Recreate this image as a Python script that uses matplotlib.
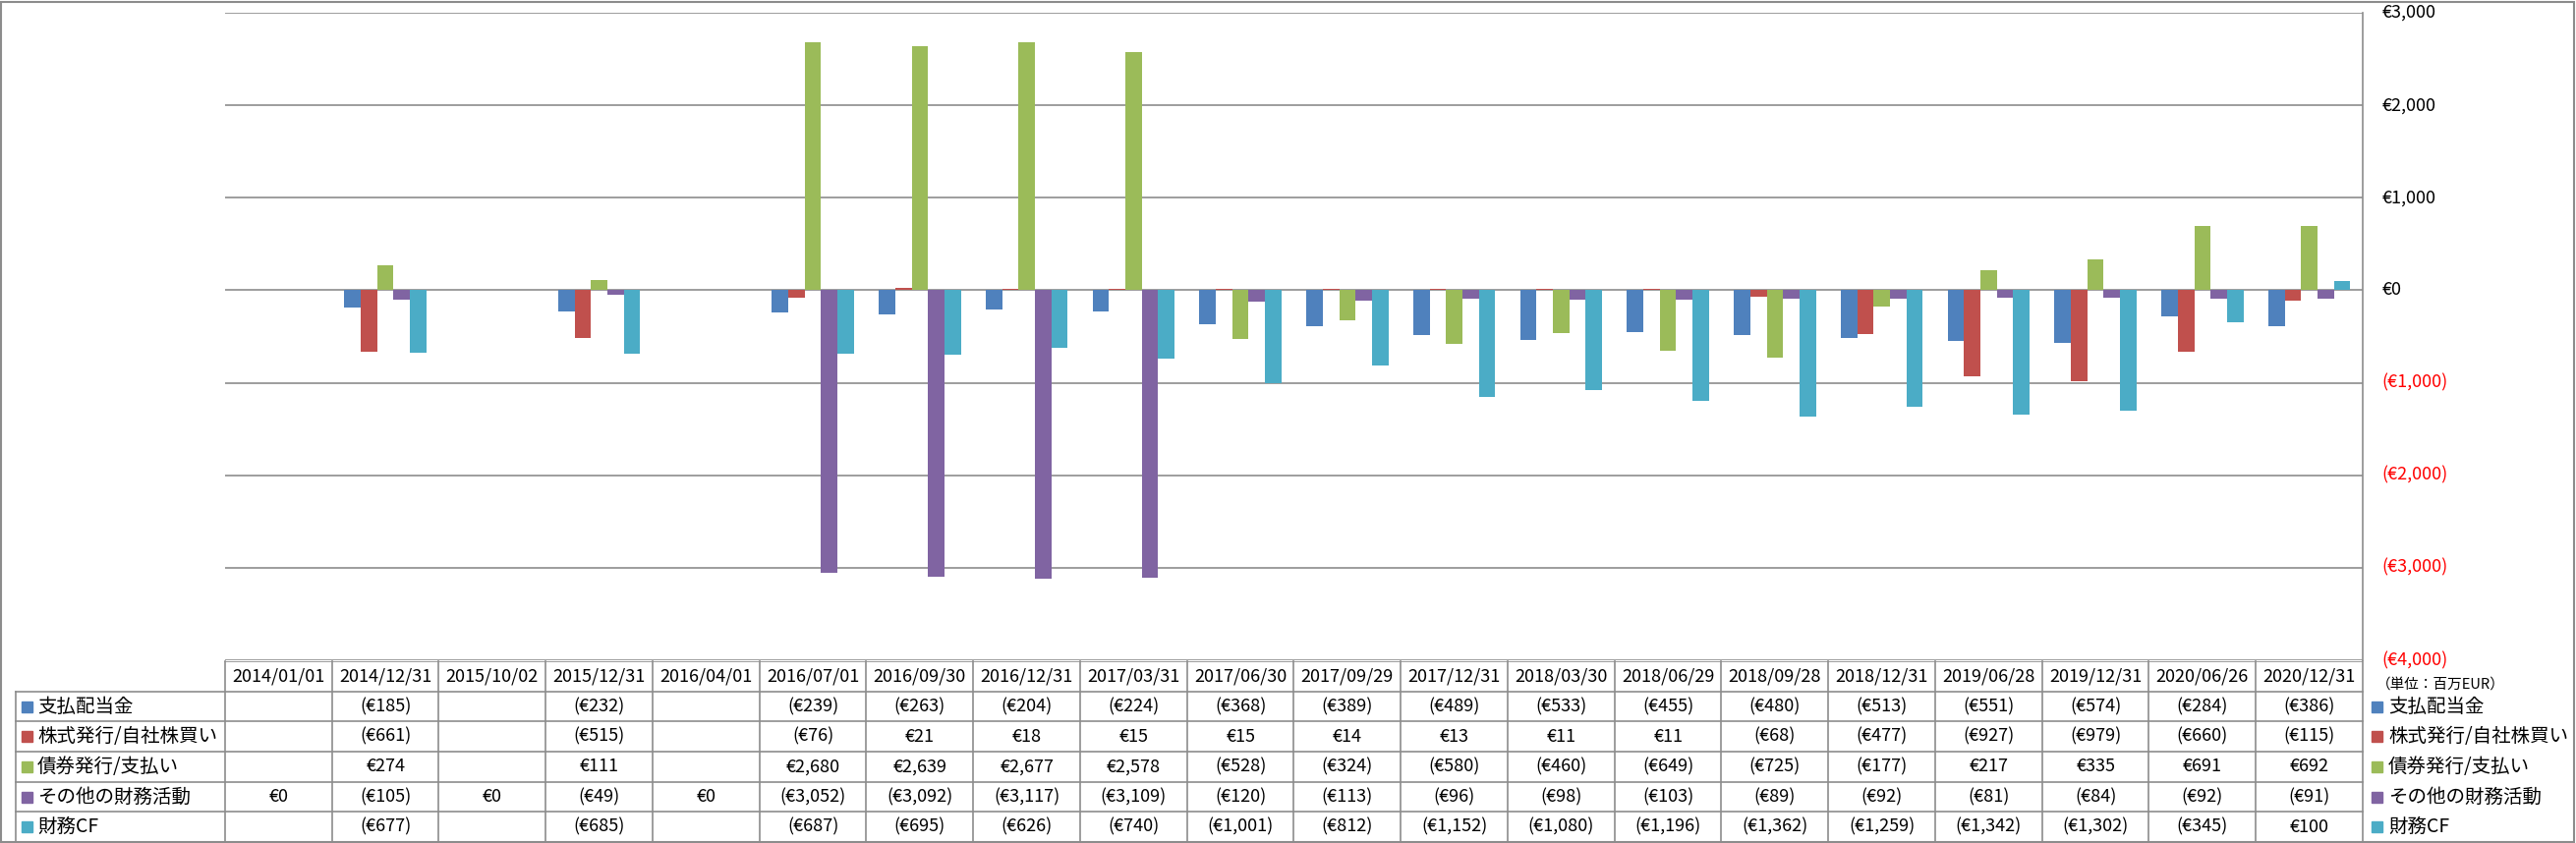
import numpy as np
import matplotlib
matplotlib.use("Agg")
import matplotlib.pyplot as plt
from matplotlib.patches import Rectangle

plt.rcParams['font.family'] = ['Noto Sans CJK JP', 'DejaVu Sans']

# ===== DATOS =====
fechas = ['2014/01/01', '2014/12/31', '2015/10/02', '2015/12/31', '2016/04/01',
          '2016/07/01', '2016/09/30', '2016/12/31', '2017/03/31', '2017/06/30',
          '2017/09/29', '2017/12/31', '2018/03/30', '2018/06/29', '2018/09/28',
          '2018/12/31', '2019/06/28', '2019/12/31', '2020/06/26', '2020/12/31']
nan = np.nan
dividendos = [nan, -185, nan, -232, nan, -239, -263, -204, -224, -368,
              -389, -489, -533, -455, -480, -513, -551, -574, -284, -386]
acciones = [nan, -661, nan, -515, nan, -76, 21, 18, 15, 15,
            14, 13, 11, 11, -68, -477, -927, -979, -660, -115]
bonos = [nan, 274, nan, 111, nan, 2680, 2639, 2677, 2578, -528,
         -324, -580, -460, -649, -725, -177, 217, 335, 691, 692]
otros = [0, -105, 0, -49, 0, -3052, -3092, -3117, -3109, -120,
         -113, -96, -98, -103, -89, -92, -81, -84, -92, -91]
cf_fin = [nan, -677, nan, -685, nan, -687, -695, -626, -740, -1001,
          -812, -1152, -1080, -1196, -1362, -1259, -1342, -1302, -345, 100]

series = [dividendos, acciones, bonos, otros, cf_fin]
nombres = ['支払配当金', '株式発行/自社株買い', '債券発行/支払い', 'その他の財務活動', '財務CF']
colores = ['#4F81BD', '#C0504D', '#9BBB59', '#8064A2', '#4BACC6']
yticks = [3000, 2000, 1000, 0, -1000, -2000, -3000, -4000]

GRIS = '#8c8c8c'
W, H = 2621, 858


def fmt(v):
    if v is None or np.isnan(v):
        return ''
    if v < 0:
        return f'(€{abs(v):,.0f})'
    return f'€{v:,.0f}'


fig = plt.figure(figsize=(W / 100, H / 100), dpi=100)

# ===== GRAFICO =====
x0, x1 = 229, 2404
ax = fig.add_axes([x0 / W, 1 - 672 / H, (x1 - x0) / W, (672 - 13) / H])
n = len(fechas)
x = np.arange(n)
ancho = 1 / 6.5
for i, (vals, col) in enumerate(zip(series, colores)):
    ax.bar(x + (i - 2) * ancho, np.array(vals, dtype=float), ancho, color=col, zorder=3)

ax.set_xlim(-0.5, n - 0.5)
ax.set_ylim(-4000, 3000)
ax.yaxis.tick_right()
ax.set_yticks(yticks)
ax.set_yticklabels([fmt(v) for v in yticks], fontsize=13)
ax.tick_params(axis='y', length=0, pad=14)
for tick, v in zip(ax.yaxis.get_major_ticks(), yticks):
    tick.label2.set_color('red' if v < 0 else 'black')
    tick.label2.set_verticalalignment('center')
ax.set_xticks([])
ax.grid(axis='y', color=GRIS, lw=1.2, zorder=0)
for s in ['left', 'top', 'bottom']:
    ax.spines[s].set_visible(False)
ax.spines['right'].set_color(GRIS)
ax.spines['right'].set_linewidth(1.2)

# ===== TABLA =====
lab_w = (229 - 16) / ((x1 - x0) / n)
tax = fig.add_axes([16 / W, 1 - 857 / H, (x1 - 16) / W, (857 - 673) / H])
tax.set_xlim(-0.5 - lab_w, n - 0.5)
tax.set_ylim(6, 0)
tax.axis('off')

tax.plot([-0.5, n - 0.5], [0, 0], color=GRIS, lw=1.2)
for r in range(1, 7):
    tax.plot([-0.5 - lab_w, n - 0.5], [r, r], color=GRIS, lw=1.2, clip_on=False)
for c in range(n + 1):
    tax.plot([c - 0.5, c - 0.5], [0, 6], color=GRIS, lw=1.2, clip_on=False)
tax.plot([-0.5 - lab_w] * 2, [1, 6], color=GRIS, lw=1.2, clip_on=False)

for c, f in enumerate(fechas):
    tax.text(c, 0.5, f, ha='center', va='center', fontsize=13)

px = (x1 - x0) / n
sq_w = 11 / px
sq_h = 11 / ((857 - 673) / 6)
for r, (nom, vals, col) in enumerate(zip(nombres, series, colores)):
    yc = r + 1.5
    # leyenda izquierda
    tax.add_patch(Rectangle((-0.5 - lab_w + 6 / px, yc - sq_h / 2), sq_w, sq_h,
                            color=col, clip_on=False))
    tax.text(-0.5 - lab_w + 22 / px, yc, nom, ha='left', va='center', fontsize=14)
    # leyenda derecha
    tax.add_patch(Rectangle((n - 0.5 + 9 / px, yc - sq_h / 2), sq_w, sq_h,
                            color=col, clip_on=False))
    tax.text(n - 0.5 + 26 / px, yc, nom, ha='left', va='center', fontsize=14,
             clip_on=False)
    for c, v in enumerate(vals):
        tax.text(c, yc, fmt(v), ha='center', va='center', fontsize=13)

fig.text(2418 / W, 1 - 697 / H, '（単位：百万EUR）', ha='left', va='center', fontsize=10.5)

fig.patches.append(Rectangle((1 / W, 1 / H), (W - 3) / W, (H - 3) / H,
                             transform=fig.transFigure, fill=False,
                             edgecolor=GRIS, lw=1.5))

fig.savefig('out.png', dpi=100)
